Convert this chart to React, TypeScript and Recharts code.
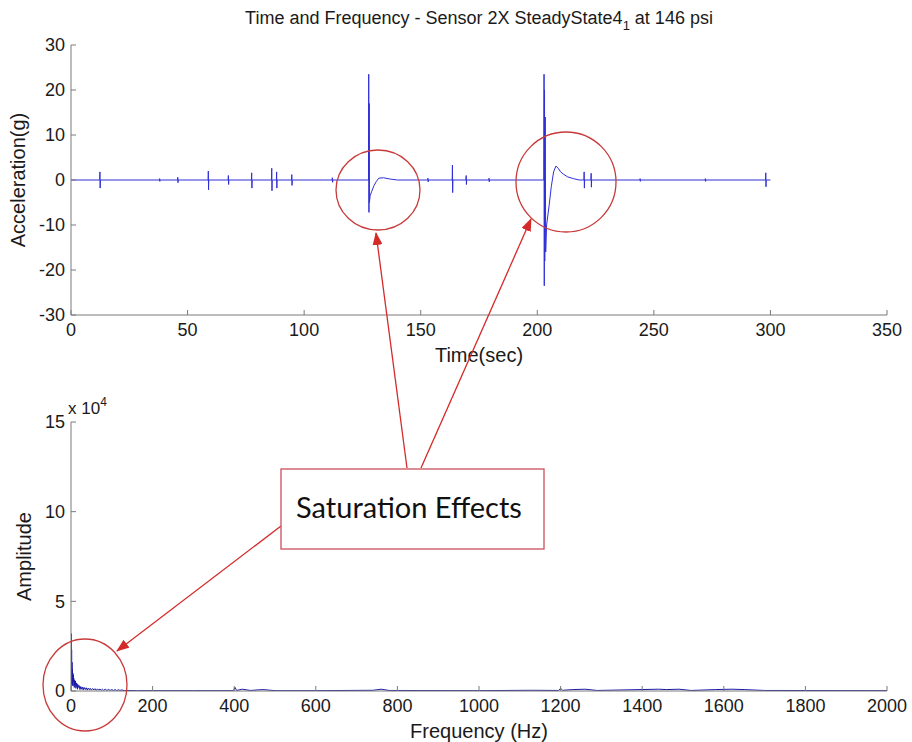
import React from "react";
import { LineChart, Line, XAxis, YAxis } from "recharts";

// time trace, acceleration in g
const timeSec = [
  0, 12.3, 12.4, 12.5, 12.6, 37.9, 38, 38.1, 38.2, 45.7, 45.8, 45.9, 46,
  58.8, 58.9, 59, 59.1, 67.4, 67.5, 67.6, 67.7, 77.4, 77.5, 77.6, 77.7,
  86, 86.1, 86.2, 86.3, 88.1, 88.2, 88.3, 88.4, 94.6, 94.7, 94.8, 94.9,
  112, 112.1, 112.2, 112.3,
  127.6, 127.7, 127.8, 127.9, 128, 128.3, 129, 130, 131, 132, 134, 137, 140,
  153, 153.1, 153.2, 153.3, 163.5, 163.6, 163.7, 163.8, 169.4, 169.5, 169.6, 169.7,
  179.2, 179.3, 179.4, 179.5,
  202.8, 202.9, 203, 203.1, 203.2, 203.4, 203.6, 204, 205, 206, 207, 208, 209, 210, 211.2, 213, 215.5, 218,
  220, 220.1, 220.2, 220.3, 223, 223.1, 223.2, 223.3,
  244, 244.1, 244.2, 244.3, 272, 272.1, 272.2, 272.3, 297.9, 298, 298.1, 298.2, 300,
];
const accelG = [
  0, 0, 1.8, -1.8, 0, 0, 0.3, -0.3, 0, 0, 0.6, -0.6, 0,
  0, 2, -2.2, 0, 0, 1, -1, 0, 0, 1.6, -1.8, 0,
  0, 2.6, -2.4, 0, 0, 1.8, -1.8, 0, 0, 1.2, -1.2, 0,
  0, 0.5, -0.5, 0,
  0, 23.5, -7.2, 17, -5, -3.5, -2.5, -1.2, -0.3, 0.4, 0.5, 0.2, 0,
  0, 0.4, -0.4, 0, 0, 3.3, -2.8, 0, 0, 1, -1, 0,
  0, 0.4, -0.4, 0,
  0, 23.5, -23.5, 20, -18, 14, -16, -10, -6, -1.5, 1.8, 3.1, 2.6, 1.8, 1.3, 0.7, 0.3, 0,
  0, 1.8, -1.8, 0, 0, 1.5, -1.6, 0,
  0, 0.3, -0.3, 0, 0, 0.3, -0.3, 0, 0, 1.6, -1.5, 0, 0,
];

// spectrum, amplitude in units of 10^4
const freqHz = [
  0, 0.5, 1, 1.5, 2, 2.5, 3, 3.5, 4, 4.5, 5, 5.5, 6, 7, 8, 9, 10, 11, 12, 13, 14, 15, 16, 17, 18, 20,
  22, 24, 26, 28, 30, 32, 35, 37, 40, 42, 45, 47, 50, 53, 56, 59, 62, 65, 68, 71, 74, 77, 80, 84, 88,
  92, 96, 100, 104, 108, 112, 116, 120, 125, 130, 140, 160, 200, 300,
  398, 402, 406, 420, 440, 470, 500, 600, 740, 760, 780, 1000, 1130, 1195, 1200,
  1205, 1230, 1260, 1290, 1440, 1460, 1490, 1520, 1580, 1620, 1650, 1700, 2000,
];
const amplitude = [
  0, 3.2, 0.4, 2.3, 0.5, 1.6, 0.3, 1.2, 0.6, 1.0, 0.3, 0.9, 0.5, 0.7, 0.2, 0.6, 0.3, 0.55, 0.15, 0.45, 0.25, 0.4, 0.1, 0.35, 0.2, 0.3,
  0.08, 0.25, 0.1, 0.22, 0.06, 0.2, 0.08, 0.18, 0.05, 0.16, 0.07, 0.15, 0.05, 0.14, 0.06, 0.13, 0.04, 0.12, 0.05, 0.11, 0.04, 0.1, 0.04, 0.1, 0.03,
  0.09, 0.03, 0.08, 0.03, 0.08, 0.02, 0.07, 0.03, 0.06, 0.02, 0.03, 0.02, 0.02, 0.02,
  0.02, 0.2, 0.03, 0.1, 0.03, 0.08, 0.02, 0.02, 0.04, 0.1, 0.03, 0.02, 0.04, 0.03, 0.15,
  0.04, 0.08, 0.1, 0.03, 0.1, 0.08, 0.1, 0.03, 0.08, 0.1, 0.08, 0.03, 0.02,
];

const timeTicks = [0, 50, 100, 150, 200, 250, 300, 350];
const accelTicks = [-30, -20, -10, 0, 10, 20, 30];
const freqTicks = [0, 200, 400, 600, 800, 1000, 1200, 1400, 1600, 1800, 2000];
const ampTicks = [0, 5, 10, 15];

const timeData = timeSec.map((t, i) => ({ t, a: accelG[i] }));
const freqData = freqHz.map((f, i) => ({ f, amp: amplitude[i] }));

const FONT = "'Liberation Sans', Arial, sans-serif";
const AXIS = "#7a7a7a";
const TXT = "#1a1a1a";
const RED = "#d42a2a";
const tickStyle = { fill: TXT, fontSize: 18, fontFamily: FONT };
const labelStyle = { fill: TXT, fontSize: 20, fontFamily: FONT, textAnchor: "middle" as const };

export default function App() {
  return (
    <div style={{ position: "absolute", left: 0, top: 0, width: 912, height: 742, background: "#fff" }}>
      <div style={{ position: "absolute", left: 0, top: 0 }}>
        <LineChart width={912} height={375} data={timeData} margin={{ top: 45, right: 25, left: 0, bottom: 0 }}>
          <XAxis
            dataKey="t"
            type="number"
            domain={[0, 350]}
            ticks={timeTicks}
            interval={0}
            allowDataOverflow
            tickSize={-5}
            tickMargin={13}
            height={60}
            stroke={AXIS}
            tick={tickStyle}
            label={{ value: "Time(sec)", position: "insideBottom", offset: 13, style: labelStyle }}
          />
          <XAxis xAxisId="top" orientation="top" type="number" domain={[0, 350]} ticks={timeTicks}
            interval={0} tickSize={-5} height={0} stroke={AXIS} tick={false} />
          <YAxis
            type="number"
            domain={[-30, 30]}
            ticks={accelTicks}
            interval={0}
            allowDataOverflow
            tickSize={-5}
            tickMargin={11}
            width={71}
            stroke={AXIS}
            tick={tickStyle}
            label={{ value: "Acceleration(g)", angle: -90, position: "insideLeft", offset: 18, style: labelStyle }}
          />
          <YAxis yAxisId="right" orientation="right" type="number" domain={[-30, 30]} ticks={accelTicks}
            interval={0} tickSize={-5} width={0} stroke={AXIS} tick={false} />
          <Line dataKey="a" type="linear" stroke="#2f2fd6" strokeWidth={1} dot={false} isAnimationActive={false} />
        </LineChart>
      </div>

      <div style={{ position: "absolute", left: 0, top: 380 }}>
        <LineChart width={912} height={362} data={freqData} margin={{ top: 42, right: 25, left: 0, bottom: 0 }}>
          <XAxis
            dataKey="f"
            type="number"
            domain={[0, 2000]}
            ticks={freqTicks}
            interval={0}
            allowDataOverflow
            tickSize={-5}
            tickMargin={13}
            height={51}
            stroke={AXIS}
            tick={tickStyle}
            label={{ value: "Frequency (Hz)", position: "insideBottom", offset: 4, style: labelStyle }}
          />
          <XAxis xAxisId="top" orientation="top" type="number" domain={[0, 2000]} ticks={freqTicks}
            interval={0} tickSize={-5} height={0} stroke={AXIS} tick={false} />
          <YAxis
            type="number"
            domain={[0, 15]}
            ticks={ampTicks}
            interval={0}
            allowDataOverflow
            tickSize={-5}
            tickMargin={11}
            width={71}
            stroke={AXIS}
            tick={tickStyle}
            label={{ value: "Amplitude", angle: -90, position: "insideLeft", offset: 24, style: labelStyle }}
          />
          <YAxis yAxisId="right" orientation="right" type="number" domain={[0, 15]} ticks={ampTicks}
            interval={0} tickSize={-5} width={0} stroke={AXIS} tick={false} />
          <Line dataKey="amp" type="linear" stroke="#1a1aa8" strokeWidth={1} dot={false} isAnimationActive={false} />
        </LineChart>
      </div>

      {/* title, exponent and the hand-drawn annotations */}
      <svg width={912} height={742} style={{ position: "absolute", left: 0, top: 0, pointerEvents: "none" }}>
        <defs>
          <marker id="arrow" markerWidth={13} markerHeight={10} refX={12} refY={5} orient="auto" markerUnits="userSpaceOnUse">
            <path d="M0,0 L13,5 L0,10 z" fill={RED} />
          </marker>
        </defs>
        <text x={479} y={24} textAnchor="middle" fontFamily={FONT} fontSize={18} fill={TXT}>
          Time and Frequency - Sensor 2X SteadyState4
          <tspan fontSize={13} dy={6}>1</tspan>
          <tspan dy={-6}> at 146 psi</tspan>
        </text>
        <text x={68} y={414} fontFamily={FONT} fontSize={17} fill={TXT}>
          x 10<tspan fontSize={12} dy={-8}>4</tspan>
        </text>

        <ellipse cx={378} cy={190} rx={42} ry={40} fill="none" stroke="#c83a3a" strokeWidth={1.3} />
        <ellipse cx={566} cy={182} rx={50} ry={50} fill="none" stroke="#c83a3a" strokeWidth={1.3} />
        <ellipse cx={85} cy={685} rx={42} ry={46} fill="none" stroke="#c83a3a" strokeWidth={1.3} />

        <line x1={407} y1={468} x2={376} y2={233} stroke={RED} strokeWidth={1.3} markerEnd="url(#arrow)" />
        <line x1={421} y1={468} x2={531} y2={219} stroke={RED} strokeWidth={1.3} markerEnd="url(#arrow)" />
        <line x1={281} y1={526} x2={117} y2={651} stroke={RED} strokeWidth={1.3} markerEnd="url(#arrow)" />

        <rect x={281} y={469} width={263} height={80} fill="#fff" stroke="#c9515a" strokeWidth={1.3} />
        <text x={409} y={518} textAnchor="middle" fontFamily="Lato, 'Open Sans', sans-serif" fontSize={29} fill="#111">
          Saturation Effects
        </text>
      </svg>
    </div>
  );
}
